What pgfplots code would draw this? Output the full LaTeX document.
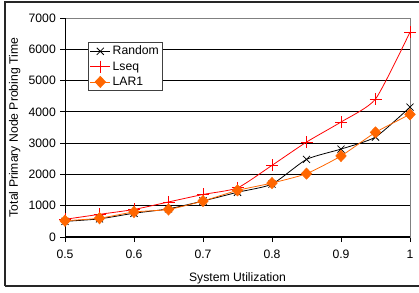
\documentclass[border=0pt]{standalone}
\usepackage{pgfplots}
\pgfplotsset{compat=1.18}
\usepackage{fontspec}
\setmainfont{Liberation Sans}
\definecolor{lseq}{HTML}{FF0000}
\definecolor{lar}{HTML}{FF6600}
\begin{document}
\fontsize{12}{14}\selectfont
\begin{tikzpicture}[x=1pt,y=1pt]
\useasboundingbox (0,0) rectangle (419,292);
\draw[line width=1.6pt, black!85] (5,6) -- (5,290.2) -- (425,290.2);
\draw[line width=1.6pt, black!85] (5,6) -- (425,6);
\begin{axis}[
  at={(65pt,55pt)}, anchor=south west,
  scale only axis, width=345pt, height=219pt,
  xmin=0.5, xmax=1, ymin=0, ymax=7000,
  xtick={0.5,0.6,0.7,0.8,0.9,1},
  xticklabels={0.5,0.6,0.7,0.8,0.9,1},
  ytick={0,1000,2000,3000,4000,5000,6000,7000},
  yticklabels={0,1000,2000,3000,4000,5000,6000,7000},
  tick align=outside, xtick pos=bottom, ytick pos=left,
  major tick length=5pt,
  tick style={black, line width=0.8pt},
  axis line style={black!50, line width=1pt},
  ymajorgrids, major grid style={black, line width=0.8pt},
  tick label style={font=\fontsize{12.2}{14}\selectfont},
  xticklabel style={yshift=-4pt},
  label style={font=\fontsize{12.2}{14}\selectfont},
  xlabel={System Utilization},
  xlabel style={yshift=-6pt},
  ylabel={Total Primary Node Probing Time},
  legend style={at={(0.0667,0.89)}, anchor=north west, draw=black!75,
    line width=0.8pt, font=\fontsize{12.2}{14}\selectfont, row sep=1pt,
    inner xsep=1.5pt, inner ysep=1.5pt},
  legend cell align=left,
  legend image code/.code={\draw[mark repeat=2,mark phase=2] plot coordinates {(0pt,0pt)(10pt,0pt)(20pt,0pt)};},
]
\addplot[black, line width=0.8pt, smooth, tension=0.35, mark=x, mark size=5pt, mark options={line width=0.8pt}]
coordinates {(0.5,500)(0.55,580)(0.6,760)(0.65,900)(0.7,1150)(0.75,1430)(0.8,1690)(0.85,2480)(0.9,2810)(0.95,3195)(1,4150)};
\addlegendentry{Random}
\addplot[lseq, line width=0.8pt, smooth, tension=0.35, mark=+, mark size=6pt, mark options={line width=0.8pt}]
coordinates {(0.5,565)(0.55,725)(0.6,880)(0.65,1120)(0.7,1360)(0.75,1570)(0.8,2290)(0.85,3035)(0.9,3675)(0.95,4410)(1,6550)};
\addlegendentry{Lseq}
\addplot[lar, line width=0.8pt, smooth, tension=0.35, mark=diamond*, mark size=5.5pt, mark options={xscale=1.25, fill=lar, draw=lar}]
coordinates {(0.5,520)(0.55,600)(0.6,800)(0.65,880)(0.7,1150)(0.75,1490)(0.8,1725)(0.85,2025)(0.9,2590)(0.95,3345)(1,3920)};
\addlegendentry{LAR1}
\draw[black, line width=1.2pt] (rel axis cs:0,1) -- (rel axis cs:0,0) -- (rel axis cs:1,0);
\end{axis}
\end{tikzpicture}
\end{document}
